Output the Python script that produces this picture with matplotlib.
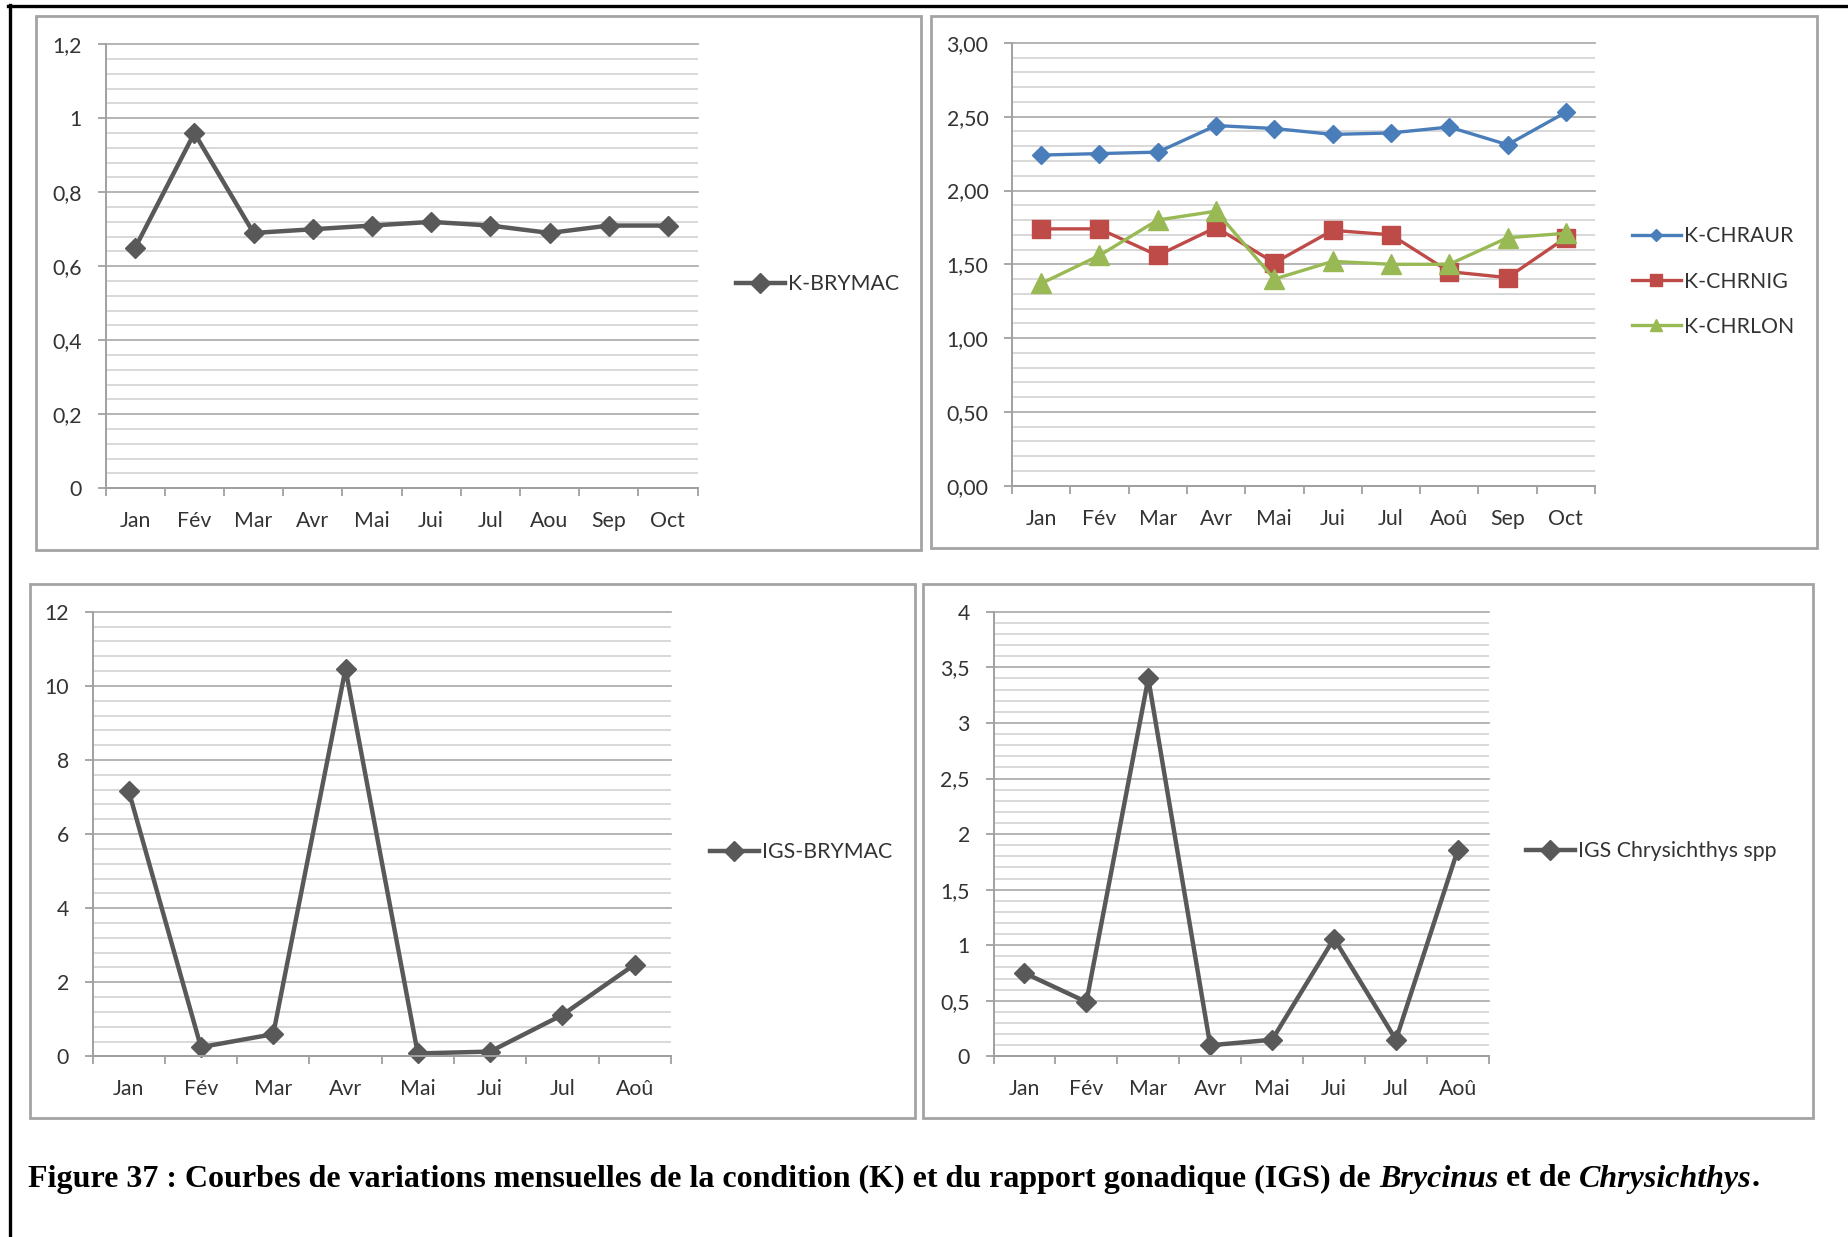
import numpy as np
import matplotlib
matplotlib.use("Agg")
import matplotlib.pyplot as plt
from matplotlib.ticker import MultipleLocator, FixedLocator
from matplotlib.patches import Rectangle
from matplotlib.lines import Line2D
from matplotlib.font_manager import FontProperties

# ---------------- data ----------------
months_a = ['Jan', 'Fév', 'Mar', 'Avr', 'Mai', 'Jui', 'Jul', 'Aou', 'Sep', 'Oct']
months_b = ['Jan', 'Fév', 'Mar', 'Avr', 'Mai', 'Jui', 'Jul', 'Aoû', 'Sep', 'Oct']
months_c = ['Jan', 'Fév', 'Mar', 'Avr', 'Mai', 'Jui', 'Jul', 'Aoû']

k_brymac = [0.65, 0.96, 0.69, 0.70, 0.71, 0.72, 0.71, 0.69, 0.71, 0.71]
k_chraur = [2.24, 2.25, 2.26, 2.44, 2.42, 2.38, 2.39, 2.43, 2.31, 2.53]
k_chrnig = [1.74, 1.74, 1.56, 1.75, 1.51, 1.73, 1.70, 1.45, 1.41, 1.68]
k_chrlon = [1.37, 1.56, 1.80, 1.86, 1.40, 1.52, 1.50, 1.50, 1.68, 1.71]
igs_brymac = [7.17, 0.25, 0.60, 10.46, 0.08, 0.13, 1.12, 2.48]
igs_chrys = [0.75, 0.49, 3.40, 0.10, 0.15, 1.06, 0.15, 1.86]

ylab_1 = ['0', '0,2', '0,4', '0,6', '0,8', '1', '1,2']
ylab_2 = ['0,00', '0,50', '1,00', '1,50', '2,00', '2,50', '3,00']
ylab_3 = ['0', '2', '4', '6', '8', '10', '12']
ylab_4 = ['0', '0,5', '1', '1,5', '2', '2,5', '3', '3,5', '4']

caption_parts = [
    ('Figure 37 : Courbes de variations mensuelles de la condition (K) et du rapport gonadique (IGS) de', False),
    ('Brycinus', True),
    ('et de', False),
    ('Chrysichthys', True),
    ('.', False),
]

# ---------------- style ----------------
W, H = 1848, 1237
FONT = ['Lato', 'DejaVu Sans']
plt.rcParams['font.family'] = FONT
FS = 15.3
TXT = '#333333'
AXC = '#a0a0a0'
MONO = '#595959'
BLUE, RED, GREEN = '#4a7ebb', '#be4b48', '#98b954'

fig = plt.figure(figsize=(W / 100, H / 100), dpi=100)
fig.patch.set_facecolor('white')


def fx(x):
    return x / W


def fy(y):
    return 1 - y / H


def make_axes(x0, y0, x1, y1):
    return fig.add_axes([fx(x0), fy(y1), (x1 - x0) / W, (y1 - y0) / H])


def border(x0, y0, x1, y1):
    fig.add_artist(Rectangle((fx(x0), fy(y1)), (x1 - x0) / W, (y1 - y0) / H,
                             transform=fig.transFigure, fill=False,
                             edgecolor='#a3a3a3', lw=2.0))


def style(ax, cats, ymax, ystep, yminor, ylabels):
    n = len(cats)
    ax.set_xlim(-0.5, n - 0.5)
    ax.set_ylim(0, ymax)
    ax.xaxis.set_major_locator(FixedLocator(np.arange(-0.5, n)))
    ax.xaxis.set_minor_locator(FixedLocator(np.arange(n)))
    ax.set_xticklabels([], minor=False)
    ax.set_xticklabels(cats, minor=True)
    ax.tick_params(axis='x', which='major', length=6, width=1.3, color=AXC)
    ax.tick_params(axis='x', which='minor', length=0, pad=16.5, labelsize=FS, labelcolor=TXT)
    ax.set_yticks(np.arange(len(ylabels)) * ystep)
    ax.set_yticklabels(ylabels)
    ax.yaxis.set_minor_locator(MultipleLocator(yminor))
    ax.tick_params(axis='y', which='major', length=6, width=1.3, color=AXC, pad=11,
                   labelsize=FS, labelcolor=TXT)
    ax.tick_params(axis='y', which='minor', length=0)
    ax.grid(which='major', axis='y', color='#a8a8a8', lw=1.2)
    ax.grid(which='minor', axis='y', color='#d2d2d2', lw=1.2)
    for ln in ax.get_ygridlines():
        ln.set_clip_on(False)
    ax.set_axisbelow(True)
    for s in ['top', 'right']:
        ax.spines[s].set_visible(False)
    for s in ['left', 'bottom']:
        ax.spines[s].set_color(AXC)
        ax.spines[s].set_linewidth(1.4)
    ax.set_facecolor('none')


def legend(ax, x, y, markerscale=1.0, labelspacing=1.1):
    ax.legend(loc='center left', bbox_to_anchor=(fx(x), fy(y)),
              bbox_transform=fig.transFigure, frameon=False, borderpad=0,
              borderaxespad=0, handlelength=2.3, handletextpad=0.15,
              fontsize=FS, labelspacing=labelspacing, markerscale=markerscale,
              labelcolor=TXT)


# ---------------- panel 1 ----------------
border(35.6, 16, 920.5, 550)
ax1 = make_axes(105.6, 44.3, 697.5, 488.2)
style(ax1, months_a, 1.2, 0.2, 0.04, ylab_1)
ax1.plot(np.arange(len(k_brymac)), k_brymac, color=MONO, lw=3.2, marker='D', ms=10,
         label='K-BRYMAC', clip_on=False)
legend(ax1, 736, 284)

# ---------------- panel 2 ----------------
border(930.7, 16, 1816.8, 548)
ax2 = make_axes(1012, 42.9, 1595, 485.7)
style(ax2, months_b, 3.0, 0.5, 0.1, ylab_2)
x2 = np.arange(len(k_chraur))
ax2.plot(x2, k_chraur, color=BLUE, lw=2.4, marker='D', ms=9, label='K-CHRAUR', clip_on=False)
ax2.plot(x2, k_chrnig, color=RED, lw=2.4, marker='s', ms=13, label='K-CHRNIG', clip_on=False)
ax2.plot(x2, k_chrlon, color=GREEN, lw=2.4, marker='^', ms=14, label='K-CHRLON', clip_on=False)
legend(ax2, 1632, 281.5, markerscale=0.65, labelspacing=1.18)

# ---------------- panel 3 ----------------
border(29.7, 584.3, 914.6, 1118)
ax3 = make_axes(92.5, 611.8, 670.8, 1056.4)
style(ax3, months_c, 12, 2, 0.4, ylab_3)
ax3.plot(np.arange(len(igs_brymac)), igs_brymac, color=MONO, lw=3.2, marker='D', ms=10,
         label='IGS-BRYMAC', clip_on=False)
legend(ax3, 710, 852)

# ---------------- panel 4 ----------------
border(923, 584.3, 1812.6, 1118)
ax4 = make_axes(993.5, 611.8, 1488.8, 1056.4)
style(ax4, months_c, 4, 0.5, 0.1, ylab_4)
ax4.plot(np.arange(len(igs_chrys)), igs_chrys, color=MONO, lw=3.2, marker='D', ms=10,
         label='IGS Chrysichthys spp', clip_on=False)
legend(ax4, 1526, 851)

# ---------------- outer frame ----------------
fig.add_artist(Line2D([fx(8), 1], [fy(6), fy(6)], color='black', lw=2.4,
                      transform=fig.transFigure))
fig.add_artist(Line2D([fx(10), fx(10)], [fy(5), 0], color='black', lw=2.4,
                      transform=fig.transFigure))

# ---------------- caption ----------------
renderer = fig.canvas.get_renderer()


def props(fs, italic):
    return FontProperties(family=['Liberation Serif', 'DejaVu Serif'], weight='bold',
                          style='italic' if italic else 'normal', size=fs)


def widths(fs):
    ws = [renderer.get_text_width_height_descent(t, props(fs, it), ismath=False)[0]
          for t, it in caption_parts]
    pn = props(fs, False)
    sp = (renderer.get_text_width_height_descent('a a', pn, ismath=False)[0]
          - renderer.get_text_width_height_descent('aa', pn, ismath=False)[0])
    return ws, sp


x_start, x_end, baseline = 28.3, 1757.5, 1186.5
fs0 = 21.6
ws, sp = widths(fs0)
total = sum(ws) + 3 * sp
fs = fs0 * (x_end - x_start) / total
ws, sp = widths(fs)
x = x_start
for i, (t, it) in enumerate(caption_parts):
    fig.text(fx(x), fy(baseline), t, fontproperties=props(fs, it), color='black',
             ha='left', va='baseline')
    x += ws[i]
    if i < 3:
        x += sp

fig.savefig('out.png', dpi=100, facecolor='white')
